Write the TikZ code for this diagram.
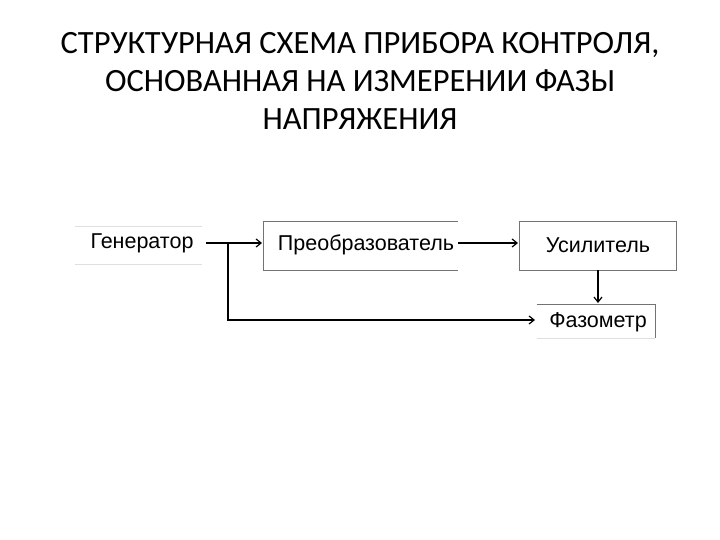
\documentclass[tikz,border=0pt]{standalone}
\usepackage{fontspec}
\setmainfont{Liberation Sans}
\newfontfamily\titlefont{Carlito}
\usetikzlibrary{arrows.meta}
\begin{document}
\begin{tikzpicture}[x=1pt,y=-1pt,
  lbl/.style={font=\fontsize{21.5}{24}\selectfont, inner sep=0pt},
  ttl/.style={font=\titlefont\fontsize{32.5}{38}\selectfont, align=center, inner sep=0pt},
  edge/.style={line width=1pt, gray!90!black},
  faint/.style={line width=0.8pt, gray!25},
  conn/.style={line width=1.2pt, -{Straight Barb[length=5pt,width=8pt]}}]
\useasboundingbox (0,0) rectangle (720,540);
\node[ttl] (title) at (360,81) {СТРУКТУРНАЯ СХЕМА ПРИБОРА КОНТРОЛЯ,\\ОСНОВАННАЯ НА ИЗМЕРЕНИИ ФАЗЫ\\НАПРЯЖЕНИЯ};
% Генератор
\draw[faint] (75,226) -- (202,226);
\draw[faint] (75,264) -- (202,264);
\node[lbl] (gen) at (142,243) {Генератор};
% Преобразователь
\draw[edge] (458,222) -- (263,222) -- (263,270) -- (458,270);
\node[lbl] (pre) at (366,245) {Преобразователь};
% Усилитель
\draw[edge] (519,222) rectangle (676,270);
\node[lbl] (usi) at (598,245) {Усилитель};
% Фазометр
\draw[edge] (537,304) -- (655,304) -- (655,338);
\draw[faint] (537,338) -- (655,338);
\node[lbl] (faz) at (598,322) {Фазометр};
\coordinate (g) at (206,243);
\coordinate (br) at (228,243);
\coordinate (pin) at (262,243);
\coordinate (pout) at (458,243);
\coordinate (uin) at (518,243);
\coordinate (uout) at (598,270);
\coordinate (fin) at (598,303);
\coordinate (fl) at (535,320);
\draw[conn] (g) -- (pin);
\draw[conn] (br) |- (fl);
\draw[conn] (pout) -- (uin);
\draw[conn] (uout) -- (fin);
\end{tikzpicture}
\end{document}
